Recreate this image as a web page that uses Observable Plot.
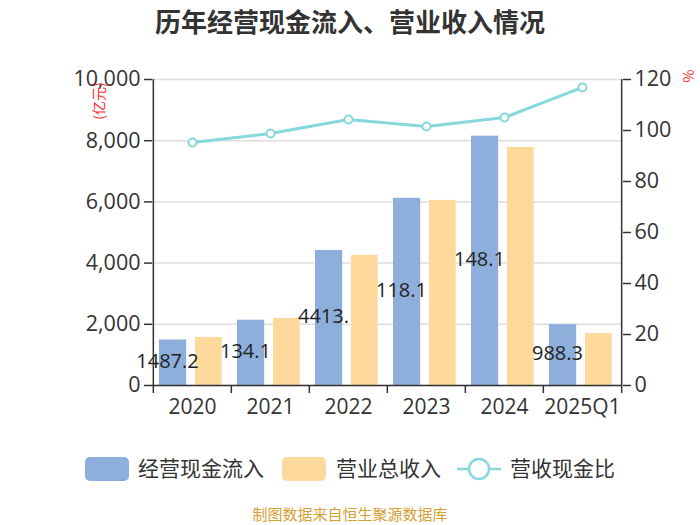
<!DOCTYPE html>
<html><head><meta charset="utf-8">
<script src="https://cdn.jsdelivr.net/npm/d3@7"></script>
<script src="https://cdn.jsdelivr.net/npm/@observablehq/plot@0.6"></script>
<style>
body{margin:0;width:700px;height:525px;background:#fff;font-family:"Open Sans","Noto Sans CJK SC",sans-serif;position:relative;overflow:hidden}
#title{position:absolute;top:0;left:0;width:700px;text-align:center;font-family:"Noto Sans CJK SC",sans-serif;font-size:26px;font-weight:bold;color:#333;line-height:42px}
#chart{position:absolute;top:45px;left:0}
.unit{position:absolute;color:#ff2a2a;font-family:"Noto Sans CJK SC",sans-serif;transform:rotate(-90deg);transform-origin:center center;white-space:nowrap}
.leg{position:absolute;font-family:"Noto Sans CJK SC",sans-serif;font-size:21px;color:#333;line-height:24px;white-space:nowrap}
.sw{position:absolute;width:44px;height:24px;border-radius:5px}
#caption{position:absolute;top:503px;left:0;width:700px;text-align:center;font-family:"Noto Sans CJK SC",sans-serif;font-size:15px;color:#d4a034;line-height:22px}
</style></head>
<body>
<div id="title">历年经营现金流入、营业收入情况</div>
<div id="chart"></div>
<div class="unit" style="left:78px;top:92px;font-size:14px;width:40px;text-align:center;line-height:18px">(亿元)</div>
<div class="unit" style="left:680px;top:67px;font-size:14px;width:16px;text-align:center;line-height:18px">%</div>
<div class="sw" style="left:85px;top:457px;background:#8eaedb"></div>
<div class="leg" style="left:138px;top:455px">经营现金流入</div>
<div class="sw" style="left:282px;top:457px;background:#fed99b"></div>
<div class="leg" style="left:336px;top:455px">营业总收入</div>
<svg style="position:absolute;left:455px;top:457px" width="50" height="24"><line x1="2" x2="46" y1="12" y2="12" stroke="#86d8dc" stroke-width="2.5"/><circle cx="24" cy="12" r="10" fill="#fff" stroke="#86d8dc" stroke-width="2.5"/></svg>
<div class="leg" style="left:510px;top:455px">营收现金比</div>
<div id="caption">制图数据来自恒生聚源数据库</div>
<script>
const years = ["2020","2021","2022","2023","2024","2025Q1"];
const cashIn = [1487.2, 2134.1, 4413.5, 6118.1, 8148.1, 1988.3];
const revenue = [1570, 2190, 4250, 6050, 7780, 1700];
const ratio = [95.3, 98.8, 104.3, 101.6, 105.1, 116.9];
const barLabels = ["1487.2","134.1","4413.","118.1","148.1","988.3"];
const leftTicks = [0, 2000, 4000, 6000, 8000, 10000];
const rightTicks = [0, 20, 40, 60, 80, 100, 120];

const k = 10000 / 120;
const rows = years.map((y, i) => ({year: y, cash: cashIn[i], rev: revenue[i], ratio: ratio[i], label: barLabels[i]}));
const W = 700, ML = 152, MR = 78;
const half = (W - ML - MR) / years.length / 2;
const band = half * 2;
const axisColor = "#333";

const chart = Plot.plot({
  width: W, height: 400,
  marginTop: 34, marginBottom: 60, marginLeft: ML, marginRight: MR,
  style: {fontFamily: "'Open Sans','Noto Sans CJK SC',sans-serif", fontSize: "21px", color: "#333", background: "transparent"},
  x: {domain: years, padding: 0, label: null},
  y: {domain: [0, 10000], label: null},
  marks: [
    Plot.gridY(leftTicks, {stroke: "#dedede", strokeOpacity: 1, strokeWidth: 1.5}),
    Plot.barY(rows, {x: "year", y: "cash", fill: "#8eaedb", insetLeft: 6, insetRight: band - 33.5}),
    Plot.barY(rows, {x: "year", y: "rev", fill: "#fed99b", insetLeft: 42, insetRight: 9.3}),
    Plot.text(rows, {x: "year", y: d => d.cash / 2, text: "label", dx: -25, dy: -1, fontSize: 20, fill: "#222"}),
    Plot.line(rows, {x: "year", y: d => d.ratio * k, stroke: "#86d8dc", strokeWidth: 3}),
    Plot.dot(rows, {x: "year", y: d => d.ratio * k, r: 4, fill: "#fff", stroke: "#86d8dc", strokeWidth: 2}),
    Plot.ruleY([0], {stroke: axisColor, strokeWidth: 1.5}),
    Plot.ruleX([years[0]], {dx: -half, stroke: axisColor, strokeWidth: 1.5}),
    Plot.ruleX([years[years.length - 1]], {dx: half, stroke: axisColor, strokeWidth: 1.5}),
    Plot.ruleX(years, {x: d => d, y1: 0, y2: 0, insetBottom: -8, dx: -half, stroke: axisColor, strokeWidth: 1.5}),
    Plot.ruleX([years[years.length - 1]], {x: d => d, y1: 0, y2: 0, insetBottom: -8, dx: half, stroke: axisColor, strokeWidth: 1.5}),
    Plot.axisY({ticks: leftTicks, tickFormat: d3.format(","), tickSize: 8, tickPadding: 4, stroke: axisColor, strokeWidth: 1.5, fontSize: 21.5, fill: "#333", label: null}),
    Plot.axisY({anchor: "right", ticks: rightTicks.map(v => v * k), tickFormat: d => String(Math.round(d / k)), tickSize: 8, tickPadding: 4, stroke: axisColor, strokeWidth: 1.5, fontSize: 21.5, fill: "#333", label: null}),
    Plot.axisX({tickSize: 0, tickPadding: 14, fontSize: 21, fill: "#333", label: null})
  ]
});
document.getElementById("chart").appendChild(chart);
</script>
</body></html>
